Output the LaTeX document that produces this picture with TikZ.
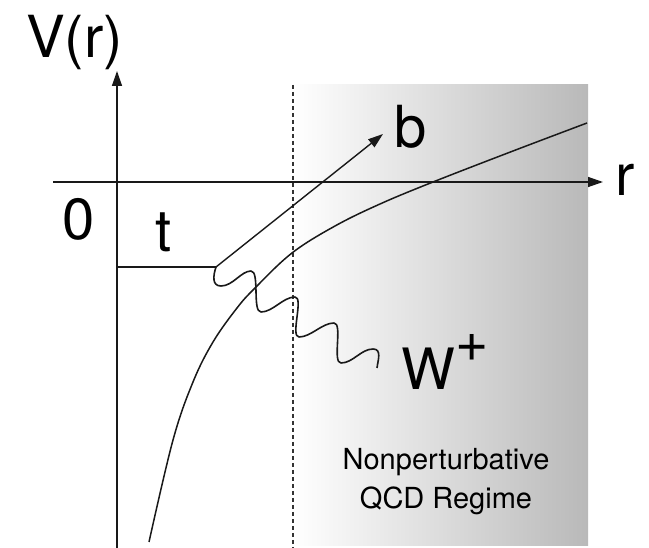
\documentclass[tikz,border=0pt]{standalone}
\usepackage{fontspec}
\setmainfont{TeX Gyre Heros}
\usetikzlibrary{arrows.meta}
\begin{document}
\begin{tikzpicture}[x=1pt,y=-1pt,
  axisline/.style={line width=1.4pt, draw=black!90, -{Triangle[length=15pt,width=10pt]}},
  plainline/.style={line width=1.4pt, draw=black!90},
  curveline/.style={line width=1.5pt, draw=black!90},
  waveline/.style={line width=1.6pt, draw=black!90, line join=round},
  dashline/.style={line width=1.3pt, draw=black!80, dash pattern=on 4pt off 3pt},
  lbl/.style={inner sep=0pt, anchor=base west, font=\fontsize{58}{58}\selectfont},
  regime/.style={inner sep=0pt, anchor=base, font=\fontsize{29}{29}\selectfont}]
\useasboundingbox (0,0) rectangle (649,548);
% shaded nonperturbative region
\shade[left color=white, right color=gray!55] (293,85) rectangle (588,545);
\coordinate (dtop) at (293,85);
\coordinate (dbot) at (293,548);
\draw[dashline] (dtop) -- (dbot);
% axes
\coordinate (yb) at (117,548);
\coordinate (yt) at (117,71);
\coordinate (xl) at (53,182);
\coordinate (xr) at (603,182);
\draw[axisline] (yb) -- (yt);
\draw[axisline] (xl) -- (xr);
% t line and b arrow
\coordinate (ta) at (117,267);
\coordinate (tc) at (216,267);
\coordinate (bt) at (383,134);
\draw[plainline] (ta) -- (tc);
\draw[axisline] (tc) -- (bt);
% potential curve
\draw[curveline] plot[smooth, tension=0.6] coordinates {(149,542) (173,440) (193,382) (213,342) (237,308) (255,288) (292,253) (335,226) (380,204) (433,182) (513,151) (587,123)};
% W wave
\coordinate (we) at (377,368);
\draw[waveline] (tc) .. controls (213,276) and (212,286) .. (221,286)
  .. controls (233,286) and (241,271) .. (251,271)
  .. controls (260,271) and (252,312) .. (261,312)
  .. controls (273,312) and (283,297) .. (295,297)
  .. controls (304,297) and (290,337) .. (299,337)
  .. controls (311,337) and (322,323) .. (334,323)
  .. controls (343,323) and (332,363) .. (341,363)
  .. controls (353,363) and (361,349) .. (373,349)
  .. controls (382,349) and (378,360) .. (we);
% labels
\node[lbl] (V) at (26,58) {V(r)};
\node[lbl] (zero) at (62,240) {0};
\node[lbl] (t) at (155,252) {t};
\node[lbl] (b) at (394,148) {b};
\node[lbl] (r) at (615,196) {r};
\node[lbl, font=\fontsize{57}{57}\selectfont] (W) at (401,390) {W\raisebox{28pt}{+}};
\node[regime] (np1) at (446,470) {Nonperturbative};
\node[regime] (np2) at (446,508) {QCD Regime};
\end{tikzpicture}
\end{document}
